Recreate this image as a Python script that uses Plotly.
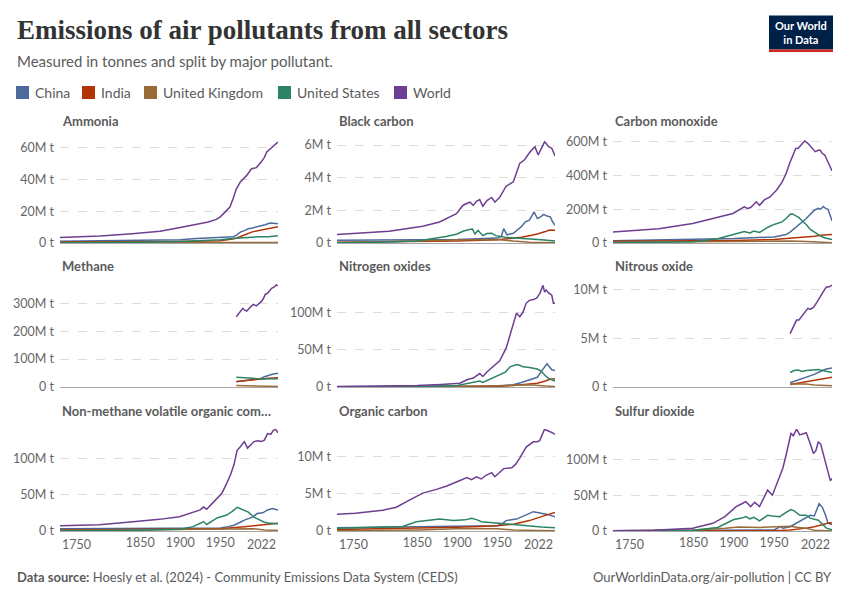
import plotly.graph_objects as go

W, H = 850, 600

ENTITIES = ["China", "India", "United Kingdom", "United States", "World"]
COLORS = ["#4C6A9C", "#B13507", "#9A6A37", "#2C8465", "#6D3E91"]

# values in million tonnes: entity -> (years, values)
AMMONIA = {
    "China": ([1750, 1850, 1900, 1920, 1950, 1960, 1966, 1970, 1975, 1980, 1985, 1990, 2000, 2006, 2012, 2016, 2022],
              [1.1, 1.5, 2.0, 2.8, 3.4, 3.8, 4.0, 4.8, 6.9, 7.8, 9.0, 9.5, 10.5, 11.5, 12.6, 12.3, 12.2]),
    "India": ([1750, 1850, 1900, 1950, 1960, 1965, 1970, 1975, 1980, 1990, 2000, 2010, 2022],
              [0.6, 0.7, 0.9, 1.4, 1.9, 2.5, 3.0, 3.8, 5.0, 7.0, 8.0, 9.0, 10.3]),
    "United Kingdom": ([1750, 1850, 1900, 1950, 1980, 2000, 2022],
                       [0.15, 0.25, 0.3, 0.35, 0.4, 0.33, 0.26]),
    "United States": ([1750, 1800, 1850, 1900, 1930, 1950, 1965, 1970, 1980, 1990, 2000, 2010, 2022],
                      [0.1, 0.2, 0.5, 1.0, 1.5, 2.0, 2.8, 3.0, 3.5, 3.8, 4.0, 3.9, 4.6]),
    "World": ([1750, 1800, 1840, 1875, 1900, 1926, 1935, 1945, 1950, 1955, 1962, 1966, 1970, 1975, 1983, 1989,
               1995, 2001, 2005, 2008, 2012, 2016, 2022],
              [3.4, 4.4, 5.9, 7.4, 9.7, 12.6, 13.2, 14.9, 16.5, 19.0, 22.7, 28.0, 34.0, 38.5, 42.6, 46.8,
               47.5, 51.0, 54.0, 57.3, 59.0, 61.0, 63.6]),
}

BLACK_CARBON = {
    "China": ([1750, 1850, 1900, 1950, 1955, 1958, 1960, 1962, 1970, 1975, 1980, 1985, 1990, 1996, 2000, 2004,
               2008, 2012, 2016, 2019, 2022],
              [0.17, 0.2, 0.22, 0.3, 0.4, 0.88, 0.7, 0.5, 0.6, 0.8, 1.0, 1.3, 1.4, 1.9, 1.5, 1.6,
               1.75, 1.65, 1.6, 1.3, 1.08]),
    "India": ([1750, 1850, 1900, 1950, 1970, 1980, 1990, 2000, 2010, 2015, 2022],
              [0.05, 0.08, 0.12, 0.2, 0.3, 0.35, 0.45, 0.55, 0.7, 0.8, 0.78]),
    "United Kingdom": ([1750, 1800, 1850, 1900, 1920, 1950, 1970, 1990, 2022],
                       [0.02, 0.05, 0.12, 0.18, 0.2, 0.22, 0.12, 0.05, 0.02]),
    "United States": ([1750, 1800, 1850, 1870, 1886, 1900, 1907, 1915, 1919, 1922, 1926, 1932, 1937, 1943,
                       1948, 1960, 1980, 2005, 2022],
                      [0.01, 0.04, 0.12, 0.25, 0.4, 0.55, 0.72, 0.82, 0.85, 0.55, 0.77, 0.45, 0.58, 0.6,
                       0.45, 0.35, 0.3, 0.2, 0.12]),
    "World": ([1750, 1815, 1857, 1878, 1899, 1907, 1913, 1916, 1920, 1924, 1928, 1932, 1937, 1943, 1947,
               1953, 1961, 1970, 1974, 1978, 1984, 1991, 1997, 2001, 2005, 2009, 2011, 2014, 2018, 2022],
              [0.52, 0.72, 1.03, 1.29, 1.8, 2.3, 2.45, 2.5, 2.3, 2.55, 2.66, 2.25, 2.6, 2.79, 2.5,
               2.8, 3.48, 3.75, 4.3, 4.88, 5.1, 5.59, 5.9, 5.39, 5.8, 6.2, 6.1, 5.9, 5.8, 5.33]),
}

CARBON_MONOXIDE = {
    "China": ([1750, 1800, 1850, 1900, 1950, 1960, 1965, 1970, 1975, 1980, 1990, 2000, 2005, 2008, 2011,
               2014, 2017, 2020, 2022],
              [14, 18, 22, 26, 36, 45, 50, 65, 85, 100, 145, 194, 205, 200, 216, 205, 200, 160, 131]),
    "India": ([1750, 1850, 1900, 1950, 1980, 2000, 2011, 2016, 2022],
              [10, 12, 15, 20, 30, 40, 48, 49, 50]),
    "United Kingdom": ([1750, 1850, 1900, 1950, 1970, 1990, 2005, 2022],
                       [4, 8, 11, 13, 12, 9, 4, 1.5]),
    "United States": ([1750, 1850, 1880, 1903, 1913, 1920, 1925, 1932, 1937, 1943, 1950, 1960, 1965, 1970,
                       1973, 1976, 1981, 1985, 1990, 1995, 2000, 2005, 2010, 2015, 2022],
                      [1, 8, 25, 56, 68, 60, 71, 63, 78, 95, 110, 125, 145, 170, 172, 165, 150, 130,
                       110, 80, 65, 48, 35, 28, 20]),
    "World": ([1750, 1807, 1849, 1882, 1899, 1913, 1917, 1921, 1928, 1932, 1938, 1945, 1953, 1960, 1965,
               1970, 1974, 1977, 1980, 1984, 1988, 1992, 1996, 2001, 2004, 2007, 2010, 2013, 2017, 2022],
              [65, 85, 115, 155, 175, 214, 205, 210, 244, 223, 255, 273, 313, 360, 412,
               480, 531, 560, 561, 580, 604, 590, 570, 541, 548, 550, 530, 521, 480, 428]),
}

METHANE = {
    "China": ([1970, 1980, 1990, 2000, 2005, 2010, 2015, 2022], [19, 22, 27, 30, 37, 42, 46, 49]),
    "India": ([1970, 1980, 1990, 2000, 2010, 2022], [20, 23, 27, 29, 31, 33]),
    "United Kingdom": ([1970, 1990, 2000, 2010, 2022], [5, 4.8, 3.6, 2.5, 2]),
    "United States": ([1970, 1980, 1990, 2000, 2010, 2022], [35, 34, 31, 29, 30, 30]),
    "World": ([1970, 1974, 1978, 1980, 1983, 1987, 1991, 1995, 1998, 2001, 2004, 2006, 2009, 2012, 2014,
               2017, 2020, 2022],
              [252, 265, 282, 276, 272, 285, 296, 291, 298, 306, 318, 332, 336, 345, 354, 358, 366, 363]),
}

NITROGEN_OXIDES = {
    "China": ([1750, 1900, 1950, 1960, 1970, 1980, 1990, 2000, 2005, 2010, 2012, 2015, 2018, 2022],
              [0.2, 0.4, 1, 2, 3, 6, 9, 13, 21, 29, 31, 27, 23, 22]),
    "India": ([1750, 1900, 1950, 1970, 1990, 2000, 2010, 2015, 2022], [0.1, 0.3, 1, 2, 4, 5, 8, 10, 11]),
    "United Kingdom": ([1750, 1850, 1900, 1950, 1970, 1990, 2010, 2022], [0.05, 0.4, 1, 1.8, 2.5, 2.9, 1.3, 0.7]),
    "United States": ([1750, 1850, 1900, 1910, 1920, 1928, 1932, 1940, 1945, 1953, 1960, 1966, 1970, 1974,
                       1978, 1982, 1990, 1995, 2000, 2005, 2010, 2015, 2022],
                      [0, 0.2, 2, 4, 6, 8, 6, 10, 13, 16, 20, 27, 29, 30, 29, 27, 26, 25, 24, 21, 15, 11, 8]),
    "World": ([1750, 1800, 1850, 1880, 1903, 1913, 1920, 1928, 1932, 1937, 1945, 1953, 1961, 1966, 1970,
               1974, 1978, 1982, 1986, 1990, 1995, 1999, 2003, 2007, 2009, 2011, 2014, 2018, 2020, 2022],
              [0.8, 1.2, 2, 3.5, 5, 10, 12, 18, 14, 20, 27, 35, 52, 70, 87,
               99, 94, 100, 112, 116, 117, 119, 125, 136, 127, 130, 126, 123, 112, 112]),
}

NITROUS_OXIDE = {
    "China": ([1970, 1980, 1990, 2000, 2010, 2015, 2022], [0.44, 0.7, 1.0, 1.3, 1.7, 1.85, 1.95]),
    "India": ([1970, 1980, 1990, 2000, 2010, 2022], [0.25, 0.4, 0.55, 0.7, 0.85, 1.0]),
    "United Kingdom": ([1970, 1990, 2000, 2010, 2022], [0.3, 0.3, 0.2, 0.15, 0.12]),
    "United States": ([1970, 1975, 1980, 1985, 1990, 1995, 2000, 2005, 2010, 2015, 2022],
                      [1.5, 1.7, 1.75, 1.6, 1.7, 1.75, 1.75, 1.8, 1.7, 1.6, 1.5]),
    "World": ([1970, 1974, 1978, 1981, 1984, 1988, 1992, 1995, 1999, 2003, 2007, 2011, 2015, 2018, 2022],
              [5.5, 6.3, 6.9, 6.9, 7.2, 7.6, 8.1, 8.0, 8.2, 8.7, 9.3, 9.8, 10.3, 10.3, 10.5]),
}

NMVOC = {
    "China": ([1750, 1850, 1900, 1950, 1960, 1967, 1975, 1980, 1990, 1996, 2003, 2009, 2015, 2022],
              [3, 3.2, 3.5, 4, 6, 8, 12, 15, 19, 24, 25, 29, 31, 29]),
    "India": ([1750, 1850, 1900, 1950, 1980, 2000, 2010, 2022], [1.5, 2, 2.5, 3, 6, 8, 9.5, 10.5]),
    "United Kingdom": ([1750, 1850, 1900, 1950, 1970, 1990, 2005, 2022], [0.5, 1.2, 2, 2.5, 3, 3.2, 1.5, 0.8]),
    "United States": ([1750, 1850, 1900, 1916, 1925, 1929, 1933, 1940, 1946, 1958, 1965, 1971, 1975, 1980,
                       1985, 1992, 2000, 2005, 2010, 2022],
                      [0.3, 1, 2.5, 6, 10.6, 13, 9, 14, 18, 22, 27, 32.6, 31, 29, 26, 19, 15, 12, 11, 10]),
    "World": ([1750, 1799, 1841, 1874, 1899, 1908, 1916, 1925, 1929, 1933, 1940, 1946, 1952, 1958, 1963,
               1967, 1971, 1975, 1980, 1984, 1988, 1992, 1997, 2001, 2005, 2009, 2013, 2016, 2019, 2022],
              [7.3, 8.7, 12.8, 16, 19.7, 23, 26.6, 29, 33, 30, 38, 45, 52, 65.6, 78,
               91, 111, 116, 123, 114, 118, 123, 124, 123, 125, 134, 133, 138, 140, 135]),
}

ORGANIC_CARBON = {
    "China": ([1750, 1850, 1900, 1950, 1955, 1961, 1974, 1982, 1995, 2000, 2007, 2014, 2022],
              [0.45, 0.55, 0.65, 0.7, 0.9, 1.4, 1.6, 2.0, 2.6, 2.5, 2.4, 2.2, 1.9]),
    "India": ([1750, 1850, 1900, 1950, 1970, 1990, 2000, 2010, 2022], [0.2, 0.35, 0.5, 0.7, 0.9, 1.4, 1.7, 2.1, 2.5]),
    "United Kingdom": ([1750, 1850, 1900, 1920, 1950, 1970, 2000, 2022], [0.05, 0.15, 0.3, 0.35, 0.3, 0.15, 0.07, 0.05]),
    "United States": ([1750, 1800, 1832, 1849, 1866, 1878, 1895, 1910, 1918, 1925, 1930, 1945, 1960, 1974,
                       1991, 2005, 2022],
                      [0.36, 0.5, 0.6, 1.25, 1.5, 1.6, 1.4, 1.5, 1.7, 1.5, 1.25, 1.1, 1.0, 0.9, 0.65, 0.55, 0.45]),
    "World": ([1750, 1773, 1807, 1824, 1841, 1857, 1874, 1887, 1899, 1912, 1918, 1924, 1930, 1936, 1943,
               1947, 1952, 1958, 1968, 1973, 1978, 1982, 1986, 1995, 2000, 2003, 2006, 2009, 2013, 2016,
               2019, 2022],
              [2.25, 2.4, 2.8, 3.2, 4.2, 5.1, 5.6, 6.05, 6.6, 7.2, 6.9, 7.3, 7.0, 7.5, 7.85,
               7.3, 7.8, 8.4, 8.5, 9.0, 9.8, 10.5, 11.3, 12.0, 12.0, 12.2, 13.0, 13.7, 13.5, 13.4,
               13.2, 13.0]),
}

SULFUR_DIOXIDE = {
    "China": ([1750, 1900, 1950, 1958, 1961, 1970, 1980, 1990, 1995, 2000, 2006, 2010, 2014, 2017, 2020, 2022],
              [0.2, 0.5, 1.5, 6, 4, 6, 12, 19, 22, 21, 38, 33, 22, 11, 9.5, 9]),
    "India": ([1750, 1900, 1950, 1970, 1980, 1990, 2000, 2010, 2015, 2019, 2022],
              [0.1, 0.3, 0.5, 1.5, 2.5, 4, 6, 9, 10.5, 11.5, 11]),
    "United Kingdom": ([1750, 1800, 1830, 1850, 1889, 1906, 1932, 1950, 1970, 1980, 1990, 2000, 2010, 2022],
                       [0.2, 0.5, 1, 1.5, 3.8, 5.6, 5, 5.5, 6.5, 5, 3.7, 1.2, 0.4, 0.15]),
    "United States": ([1750, 1850, 1880, 1900, 1910, 1915, 1920, 1925, 1932, 1937, 1942, 1948, 1957, 1965,
                       1971, 1975, 1982, 1990, 1995, 2005, 2010, 2015, 2022],
                      [0, 1, 5, 16, 18, 20, 17, 19, 14, 18, 22, 21, 20, 26, 30, 28, 22, 22, 18, 15, 10, 4, 1.8]),
    "World": ([1750, 1800, 1849, 1874, 1889, 1903, 1910, 1915, 1921, 1926, 1932, 1937, 1942, 1948, 1953,
               1957, 1961, 1965, 1971, 1974, 1978, 1982, 1986, 1990, 1994, 1999, 2002, 2005, 2008, 2011,
               2014, 2017, 2020, 2022],
              [0.5, 1, 3.8, 10.7, 20, 34, 38, 41, 34, 40, 34, 45, 57, 50, 65,
               76, 88, 106, 136, 133, 142, 134, 136, 137, 125, 108, 112, 124.5, 121, 108,
               98, 82, 70, 73.5]),
}

PANEL_TITLES = ["Ammonia", "Black carbon", "Carbon monoxide",
                "Methane", "Nitrogen oxides", "Nitrous oxide",
                "Non-methane volatile organic com…", "Organic carbon", "Sulfur dioxide"]
PANEL_DATA = [AMMONIA, BLACK_CARBON, CARBON_MONOXIDE,
              METHANE, NITROGEN_OXIDES, NITROUS_OXIDE,
              NMVOC, ORGANIC_CARBON, SULFUR_DIOXIDE]
Y_TICKS = [[0, 20, 40, 60], [0, 2, 4, 6], [0, 200, 400, 600],
           [0, 100, 200, 300], [0, 50, 100], [0, 5, 10],
           [0, 50, 100], [0, 5, 10], [0, 50, 100]]
X_TICKS = [1850, 1900, 1950]
X_START, X_END = 1750, 2022

# layout, in pixels of the 850x600 reference
Y_MAX = [64.9, 6.31, 610, 372.8, 139.2, 10.72, 140.3, 13.73, 142.3]
COL_PX = [(60, 278), (337, 555), (613, 832)]
ROW_PX = [(140, 243), (283, 387), (429, 531)]
ROW_TITLE_PY = [121, 266, 411]
OFF = 8  # page body margin in front of the figure

FONT = "Lato, sans-serif"
GREY = "#5b5b5b"
TICK_GREY = "#666666"


def fx(px):
    return (px - OFF) / W


def fy(py):
    return 1 - (py - OFF) / H


fig = go.Figure()
layout = {}
annotations = []
shapes = []

for i, (title, data) in enumerate(zip(PANEL_TITLES, PANEL_DATA)):
    r, c = divmod(i, 3)
    sfx = "" if i == 0 else str(i + 1)
    for ent, col in zip(ENTITIES, COLORS):
        yrs, vals = data[ent]
        fig.add_trace(go.Scatter(x=yrs, y=vals, mode="lines", name=ent,
                                 line=dict(color=col, width=1.5),
                                 xaxis="x" + sfx, yaxis="y" + sfx, showlegend=False))
    x0, x1 = COL_PX[c]
    yt, yb = ROW_PX[r]
    bottom = r == 2
    layout["xaxis" + sfx] = dict(
        domain=[fx(x0), fx(x1)], range=[X_START, X_END], anchor="y" + sfx, automargin=False,
        showgrid=False, zeroline=False, showline=True, linecolor="#a8a8a8", linewidth=1,
        tickvals=X_TICKS if bottom else [], showticklabels=bottom, ticks="",
        tickfont=dict(family=FONT, size=12.5, color=TICK_GREY),
    )
    ticks = Y_TICKS[i]
    layout["yaxis" + sfx] = dict(
        domain=[fy(yb), fy(yt)], range=[0, Y_MAX[i]], anchor="x" + sfx, automargin=False,
        tickvals=ticks, ticktext=["0 t" if v == 0 else f"{v}M t" for v in ticks],
        showgrid=True, gridcolor="#dddddd", griddash="dash", gridwidth=1,
        zeroline=False, showline=False, ticks="", ticklabelstandoff=5,
        tickfont=dict(family=FONT, size=12.5, color=TICK_GREY),
    )
    annotations.append(dict(text=f"<b>{title}</b>", x=fx(x0), y=fy(ROW_TITLE_PY[r]),
                            xref="paper", yref="paper", xanchor="left", yanchor="middle",
                            showarrow=False, font=dict(family=FONT, size=13, color=GREY)))
    if bottom:
        for yr, anchor in [(X_START, "left"), (X_END, "right")]:
            annotations.append(dict(text=str(yr), x=yr, y=fy(544), xref="x" + sfx, yref="paper",
                                    xanchor=anchor, yanchor="middle", showarrow=False,
                                    font=dict(family=FONT, size=12.5, color=TICK_GREY)))

# header
annotations.append(dict(text="<b>Emissions of air pollutants from all sectors</b>", x=fx(15), y=fy(30),
                        xref="paper", yref="paper", xanchor="left", yanchor="middle", showarrow=False,
                        font=dict(family="Liberation Serif, serif", size=27, color="#333333")))
annotations.append(dict(text="Measured in tonnes and split by major pollutant.", x=fx(15), y=fy(61),
                        xref="paper", yref="paper", xanchor="left", yanchor="middle", showarrow=False,
                        font=dict(family=FONT, size=15, color=GREY)))

# legend
LEGEND_PX = [16, 82, 144, 278, 394]
for ent, col, lx in zip(ENTITIES, COLORS, LEGEND_PX):
    shapes.append(dict(type="rect", xref="paper", yref="paper", x0=fx(lx), x1=fx(lx + 13),
                       y0=fy(99), y1=fy(86), fillcolor=col, line=dict(width=0)))
    annotations.append(dict(text=ent, x=fx(lx + 17), y=fy(92.5), xref="paper", yref="paper",
                            xanchor="left", yanchor="middle", showarrow=False,
                            font=dict(family=FONT, size=14, color=GREY)))

# logo
shapes.append(dict(type="rect", xref="paper", yref="paper", x0=fx(769), x1=fx(833), y0=fy(49.5), y1=fy(15.5),
                   fillcolor="#002147", line=dict(width=0)))
shapes.append(dict(type="rect", xref="paper", yref="paper", x0=fx(769), x1=fx(833), y0=fy(52), y1=fy(49.5),
                   fillcolor="#ce261e", line=dict(width=0)))
annotations.append(dict(text="<b>Our World<br>in Data</b>", x=fx(801), y=fy(32.5), xref="paper", yref="paper",
                        xanchor="center", yanchor="middle", showarrow=False, align="center",
                        font=dict(family=FONT, size=11, color="white")))

# footer
annotations.append(dict(text="<b>Data source:</b> Hoesly et al. (2024) - Community Emissions Data System (CEDS)",
                        x=fx(15), y=fy(577), xref="paper", yref="paper", xanchor="left", yanchor="middle",
                        showarrow=False, font=dict(family=FONT, size=13, color=GREY)))
annotations.append(dict(text="OurWorldinData.org/air-pollution | CC BY",
                        x=fx(834), y=fy(577), xref="paper", yref="paper", xanchor="right", yanchor="middle",
                        showarrow=False, font=dict(family=FONT, size=13, color=GREY)))

fig.update_layout(
    width=W, height=H, margin=dict(l=0, r=0, t=0, b=0, autoexpand=False),
    paper_bgcolor="white", plot_bgcolor="white",
    font=dict(family=FONT), showlegend=False,
    annotations=annotations, shapes=shapes, hovermode="x",
    **layout,
)

fig.write_html("out.html")
